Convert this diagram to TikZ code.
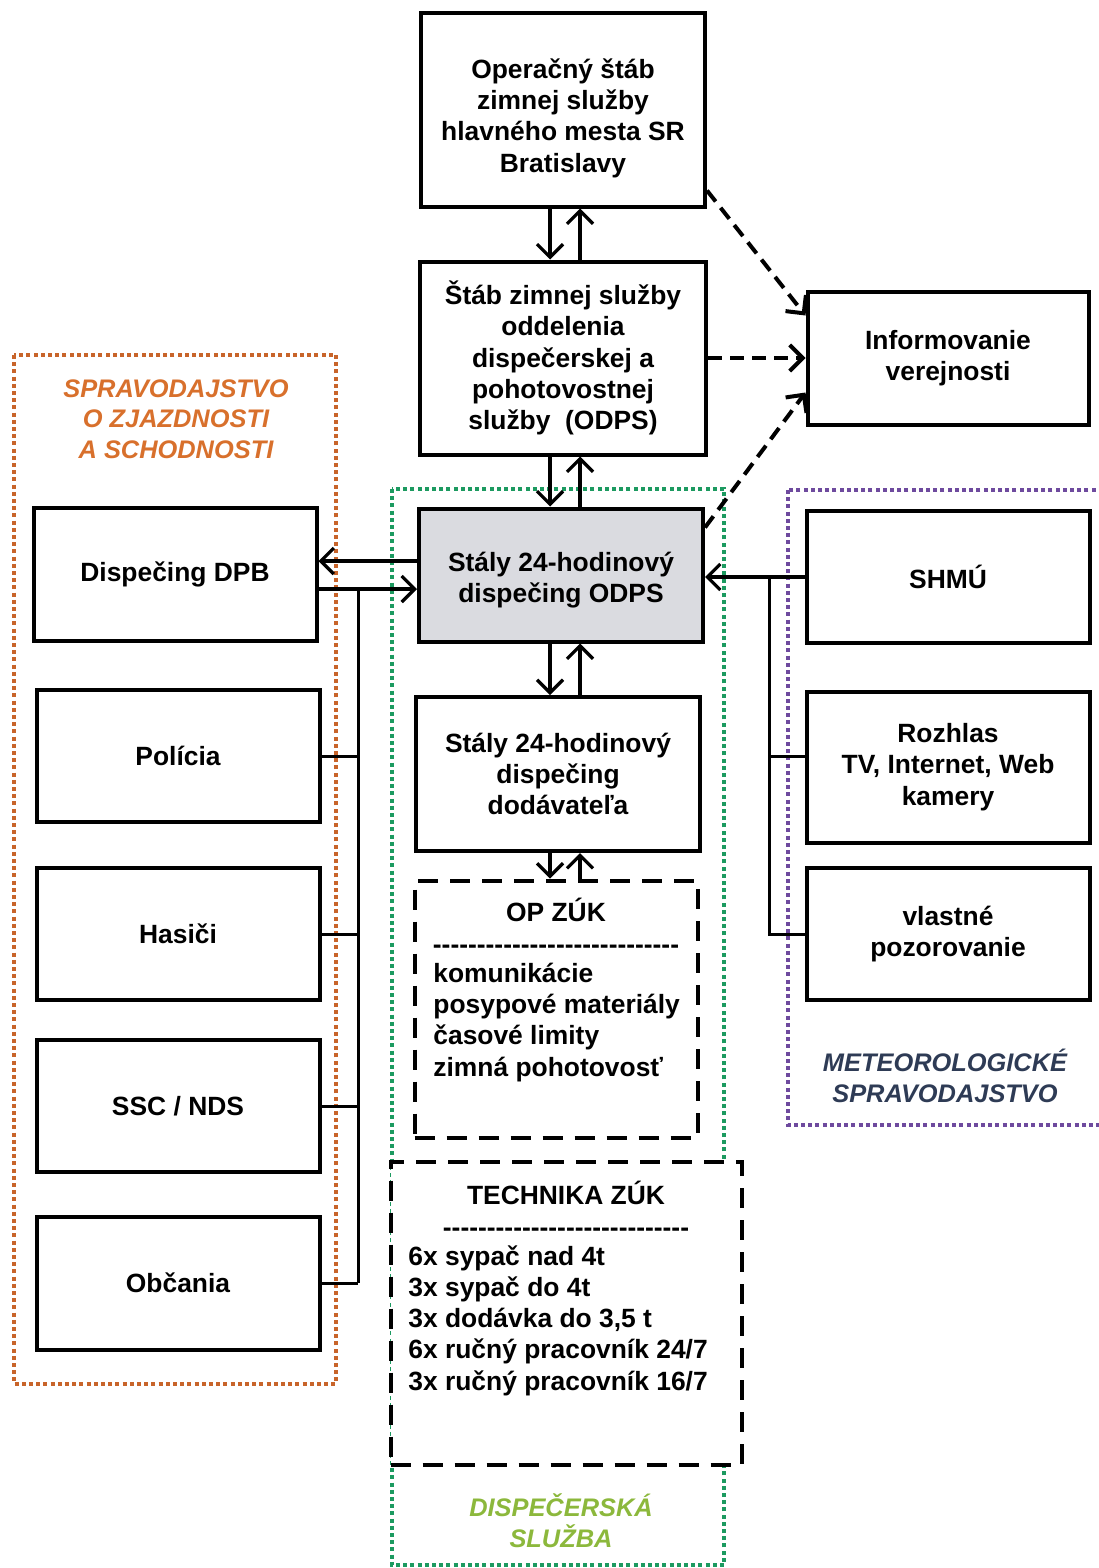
\documentclass[tikz,border=0pt]{standalone}
\usepackage{fontspec}
\setmainfont{Liberation Sans}
\usetikzlibrary{positioning, arrows.meta}

\definecolor{odpsgray}{HTML}{DADBE0}
\definecolor{spravorange}{HTML}{C8642A}
\definecolor{spravtext}{HTML}{D8702C}
\definecolor{dispgreen}{HTML}{1C9A60}
\definecolor{disptext}{HTML}{8CB83C}
\definecolor{meteopurple}{HTML}{6E4A9E}
\definecolor{meteotext}{HTML}{2E3B55}

\newcommand{\dashrow}{\foreach \k in {1,...,28}{\mbox{-}}}

\begin{document}
\begin{tikzpicture}[x=0.5pt, y=-0.5pt,
        box/.style={draw, line width=2pt, align=center, inner sep=0pt,
            minimum width=142pt, minimum height=66pt,
            font=\bfseries\fontsize{13.2}{15.6}\selectfont},
        zuk/.style={draw, line width=2pt, fill=white, dash pattern=on 10pt off 6pt},
        txt/.style={align=#1, inner sep=0pt,
            font=\bfseries\fontsize{13.2}{15.6}\selectfont},
        lbl/.style={align=center, inner sep=0pt,
            font=\bfseries\itshape\fontsize{12.7}{15.3}\selectfont},
        frame/.style={line width=2pt, dash pattern=on 2pt off 1.6pt},
        arr/.style={line width=1.6pt, -{Straight Barb[length=6.5pt,width=13pt]}},
        darr/.style={arr, line width=2pt, dash pattern=on 7pt off 4pt},
        link/.style={line width=1.5pt}]
    \useasboundingbox (0,0) rectangle (1098,1568);

    \draw[frame, spravorange] (14,355) rectangle (336,1384);
    \draw[frame, dispgreen] (392,489) rectangle (724,1565);
    \draw[frame, meteopurple] (788,490) rectangle (1106,1125);

    \node[box, minimum height=96.5pt] (ops) at (563,110) {\rule{0pt}{18pt}Operačný štáb\\zimnej služby\\hlavného mesta SR\\Bratislavy};
    \node[box, minimum width=143pt, minimum height=96.5pt] (stab) at (563,358) {Štáb zimnej služby\\oddelenia\\dispečerskej a\\pohotovostnej\\služby~ (ODPS)};
    \node[box, minimum width=140.5pt, minimum height=66.5pt] (info) at (948,358) {Informovanie\\verejnosti};
    \node[box, fill=odpsgray, minimum height=66.5pt] (odps) at (561,575) {\rule{0pt}{15pt}Stály 24-hodinový\\dispečing ODPS};
    \node[box, minimum width=141.5pt, minimum height=66.5pt] (dpb) at (175,574) {Dispečing DPB};
    \node[box, minimum width=141.5pt] (pol) at (178,756) {Polícia};
    \node[box, minimum width=141.5pt] (has) at (178,934) {Hasiči};
    \node[box, minimum width=141.5pt] (ssc) at (178,1106) {SSC / NDS};
    \node[box, minimum width=141.5pt, minimum height=66.5pt] (obc) at (178,1283) {Občania};
    \node[box, minimum width=141.5pt] (shmu) at (948,577) {SHMÚ};
    \node[box, minimum width=141.5pt, minimum height=75.5pt] (rozh) at (948,767) {Rozhlas\\TV, Internet, Web\\kamery};
    \node[box, minimum width=141.5pt] (vlast) at (948,934) {vlastné\\pozorovanie};
    \node[box, minimum height=77pt] (dod) at (558,774) {Stály 24-hodinový\\dispečing\\dodávateľa};
    \node[zuk, minimum width=141.5pt, minimum height=128.5pt] (opzuk) at (556,1009) {};
    \node[zuk, minimum width=175.5pt, minimum height=151.5pt] (tech) at (566,1313) {};

    \node[txt=center, anchor=base] (opzuk-hd) at (556,953) {OP ZÚK\\\dashrow};
    \node[txt=left, anchor=base west] (opzuk-ls) at (433,1076) {komunikácie\\posypové materiály\\časové limity\\zimná pohotovosť};
    \node[txt=center, anchor=base] (tech-hd) at (566,1236) {TECHNIKA ZÚK\\\dashrow};
    \node[txt=left, anchor=base west] (tech-ls) at (408,1390) {6x sypač nad 4t\\3x sypač do 4t\\3x dodávka do 3,5 t\\6x ručný pracovník 24/7\\3x ručný pracovník 16/7};

    \node[lbl, spravtext] (sprav) at (176,419) {SPRAVODAJSTVO\\O ZJAZDNOSTI\\A SCHODNOSTI};
    \node[lbl, disptext] (disp) at (561,1521) {DISPEČERSKÁ\\SLUŽBA};
    \node[lbl, meteotext] (meteo) at (945,1076) {METEOROLOGICKÉ\\SPRAVODAJSTVO};

    \coordinate (dn) at (550,0);
    \coordinate (up) at (580,0);
    \coordinate (lup) at (0,561);
    \coordinate (ldn) at (0,589);
    \coordinate (lbus) at (358,0);
    \coordinate (rbus) at (769,0);
    \coordinate (rj) at (769,756);

    \foreach \a/\b in {ops/stab, stab/odps, odps/dod, dod/opzuk} {
        \draw[arr] (dn |- \a.south) -- (dn |- \b.north);
        \draw[arr] (up |- \b.north) -- (up |- \a.south);
    }

    \draw[arr] (odps.west |- lup) -- (dpb.east |- lup);
    \draw[arr] (dpb.east |- ldn) -- (odps.west |- ldn);
    \draw[link] (lbus |- ldn) -- (lbus |- obc.east);
    \foreach \n in {pol, has, ssc, obc}
        \draw[link] (\n.east) -- (lbus |- \n.east);

    \draw[arr] (shmu.west) -- (odps.east |- shmu.west);
    \draw[link] (rbus |- shmu.west) -- (rbus |- vlast.west) -- (vlast.west);
    \draw[link] (rozh.west |- rj) -- (rj);

    \draw[darr] ([yshift=9pt]ops.south east) -- ([yshift=-13pt]info.north west);
    \draw[darr] (stab.east) -- (info.west);
    \draw[darr] ([yshift=-10.5pt]odps.north east) -- ([yshift=17pt]info.south west);
\end{tikzpicture}
\end{document}
